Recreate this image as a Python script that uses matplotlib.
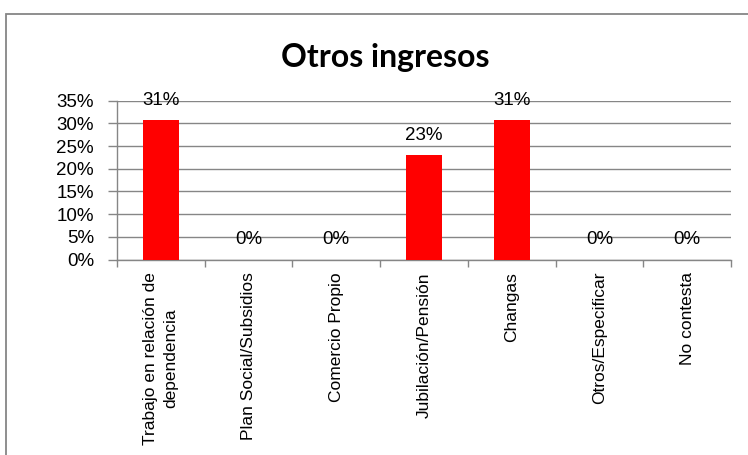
import numpy as np
import matplotlib
matplotlib.use('Agg')
import matplotlib.pyplot as plt
from matplotlib.patches import Rectangle

plt.rcParams['font.family'] = ['Liberation Sans', 'DejaVu Sans']

# data
categorias = ['Trabajo en relación de\ndependencia', 'Plan Social/Subsidios', 'Comercio Propio',
              'Jubilación/Pensión', 'Changas', 'Otros/Especificar', 'No contesta']
valores = [30.77, 0, 0, 23.08, 30.77, 0, 0]
y_ticks = [0, 5, 10, 15, 20, 25, 30, 35]

fig = plt.figure(figsize=(7.48, 4.55), dpi=100)
ax = fig.add_axes([117 / 748, 1 - 259.5 / 455, 614 / 748, 158.8 / 455])

x = np.arange(len(categorias))
ax.bar(x, valores, width=0.41, color='#ff0000', zorder=3)

for xi, v in zip(x, valores):
    ax.annotate(f'{v:.0f}%', (xi, v), xytext=(0, 8), textcoords='offset points',
                ha='center', va='bottom', fontsize=13.5, color='black')

ax.set_xlim(-0.5, len(categorias) - 0.5)
ax.set_ylim(0, 35)
ax.set_yticks(y_ticks)
ax.set_yticklabels([f'{t}%' for t in y_ticks], fontsize=13.5)
ax.yaxis.grid(True, color='#868686', linewidth=1, zorder=0)

ax.set_xticks(x)
ax.set_xticklabels(categorias, rotation=90, fontsize=12.5, va='top', ha='center',
                   multialignment='center', linespacing=1.4)
ax.tick_params(axis='x', which='major', length=0, pad=9)
ax.set_xticks(np.arange(-0.5, len(categorias), 1), minor=True)
ax.tick_params(axis='x', which='minor', length=5, color='#868686', width=1)
ax.tick_params(axis='y', length=6.5, color='#868686', width=1, pad=10)

for s in ['top', 'right']:
    ax.spines[s].set_visible(False)
for s in ['left', 'bottom']:
    ax.spines[s].set_color('#868686')
    ax.spines[s].set_linewidth(1)

fig.text(0.515, 1 - 57 / 455, 'Otros ingresos', ha='center', va='center', fontsize=23,
         fontweight='bold', family=['Lato', 'DejaVu Sans'])

# outer chart border
fig.patches.append(Rectangle((6 / 748, -0.1), 1.1, 1.1 - 14 / 455, transform=fig.transFigure,
                             fill=False, edgecolor='#868686', linewidth=1.3))

fig.savefig('out.png', dpi=100)
